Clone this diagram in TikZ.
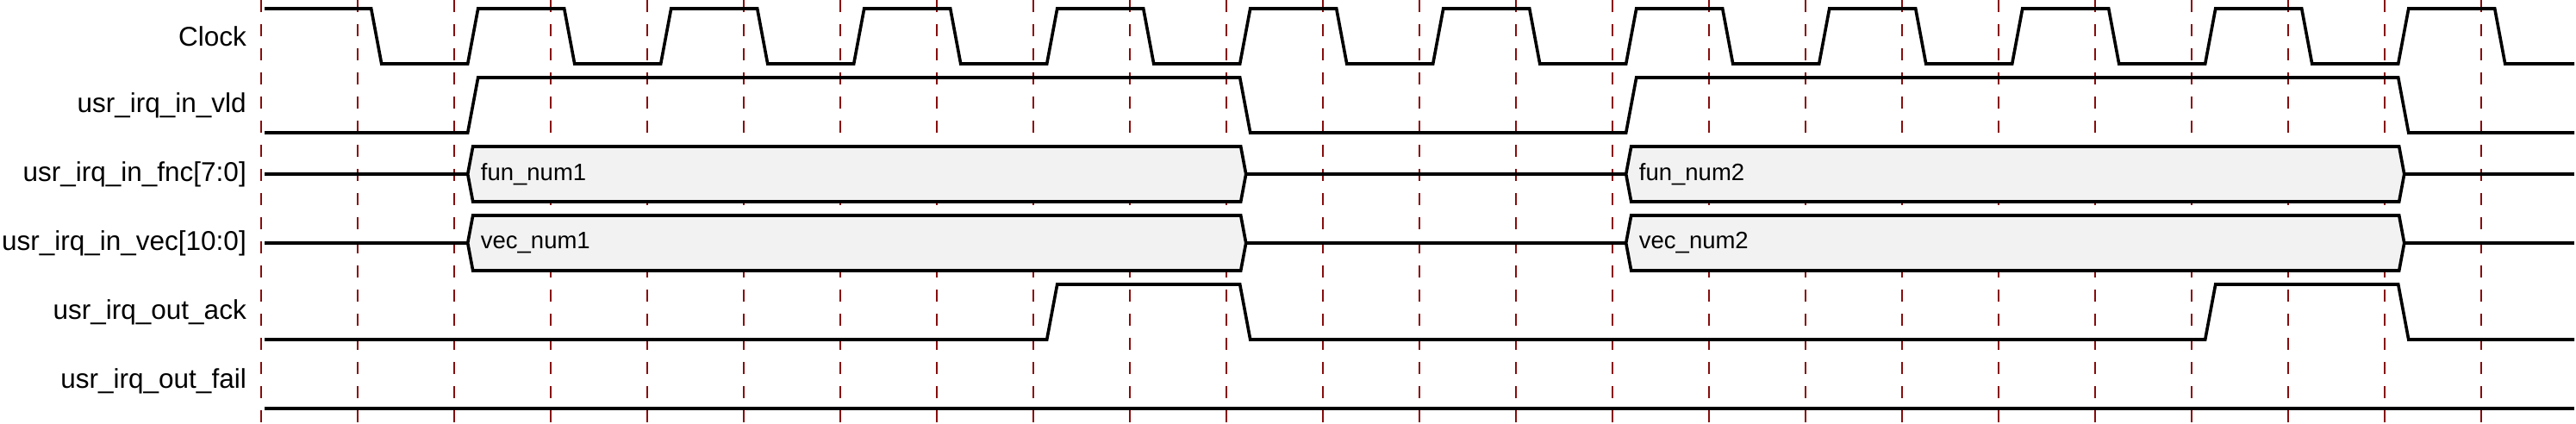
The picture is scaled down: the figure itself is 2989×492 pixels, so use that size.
\documentclass[tikz,border=0pt]{standalone}
\usepackage{fontspec}
\setmainfont{Liberation Sans}
\definecolor{gridred}{RGB}{135,12,12}
\definecolor{busfill}{RGB}{242,242,242}
\begin{document}
\begin{tikzpicture}[x=1pt,y=-1pt,
  wave/.style={line width=3.6pt,black,line join=miter},
  grid/.style={line width=1.8pt,gridred,dash pattern=on 14pt off 14pt},
  sig/.style={anchor=east,inner sep=0pt,font=\fontsize{31.5}{36}\selectfont},
  busbox/.style={wave,fill=busfill},
  bustext/.style={anchor=west,inner sep=0pt,font=\fontsize{27.5}{32}\selectfont}]
\def\dd#1{(302.7+112*#1)}
\useasboundingbox (0,0) rectangle (2989,492);
% grid
\foreach \k in {0,...,23} \draw[grid] ({\dd{\k}},0) -- ({\dd{\k}},492);
% labels
\node[sig] (lclk)  at (286,42)  {Clock};
\node[sig] (lvld)  at (286,122) {usr\_irq\_in\_vld};
\node[sig] (lfnc)  at (286,202) {usr\_irq\_in\_fnc[7:0]};
\node[sig] (lvec)  at (286,282) {usr\_irq\_in\_vec[10:0]};
\node[sig] (lack)  at (286,362) {usr\_irq\_out\_ack};
\node[sig] (lfail) at (286,442) {usr\_irq\_out\_fail};
% clock
\draw[wave] (307,10)
  \foreach \k in {1,3,...,21} {
    -- ({\dd{\k}+16},10) -- ({\dd{\k}+28},74)
    -- ({\dd{\k}+112+16},74) -- ({\dd{\k}+112+28},10) }
  -- ({\dd{23}+16},10) -- ({\dd{23}+28},74) -- (2987,74);
% vld
\draw[wave] (307,154) -- ({\dd{2}+16},154) -- ({\dd{2}+28},90)
  -- ({\dd{10}+16},90) -- ({\dd{10}+28},154)
  -- ({\dd{14}+16},154) -- ({\dd{14}+28},90)
  -- ({\dd{22}+16},90) -- ({\dd{22}+28},154) -- (2987,154);
% buses
\foreach \c/\n/\name in {202/fun/fnc,282/vec/vec} {
  \draw[wave] (307,\c) -- ({\dd{2}+16},\c);
  \draw[busbox] ({\dd{2}+16},\c) -- ({\dd{2}+22},\c-32) -- ({\dd{10}+17},\c-32)
     -- ({\dd{10}+23},\c) -- ({\dd{10}+17},\c+32) -- ({\dd{2}+22},\c+32) -- cycle;
  \draw[wave] ({\dd{10}+23},\c) -- ({\dd{14}+16},\c);
  \draw[busbox] ({\dd{14}+16},\c) -- ({\dd{14}+22},\c-32) -- ({\dd{22}+17},\c-32)
     -- ({\dd{22}+23},\c) -- ({\dd{22}+17},\c+32) -- ({\dd{14}+22},\c+32) -- cycle;
  \draw[wave] ({\dd{22}+23},\c) -- (2987,\c);
  \node[bustext] (\name a) at ({\dd{2}+31},\c) {\n\_num1};
  \node[bustext] (\name b) at ({\dd{14}+31},\c) {\n\_num2};
}
% ack
\draw[wave] (307,394) -- ({\dd{8}+16},394) -- ({\dd{8}+28},330)
  -- ({\dd{10}+16},330) -- ({\dd{10}+28},394)
  -- ({\dd{20}+16},394) -- ({\dd{20}+28},330)
  -- ({\dd{22}+16},330) -- ({\dd{22}+28},394) -- (2987,394);
% fail
\draw[wave] (307,474) -- (2987,474);
\end{tikzpicture}
\end{document}
